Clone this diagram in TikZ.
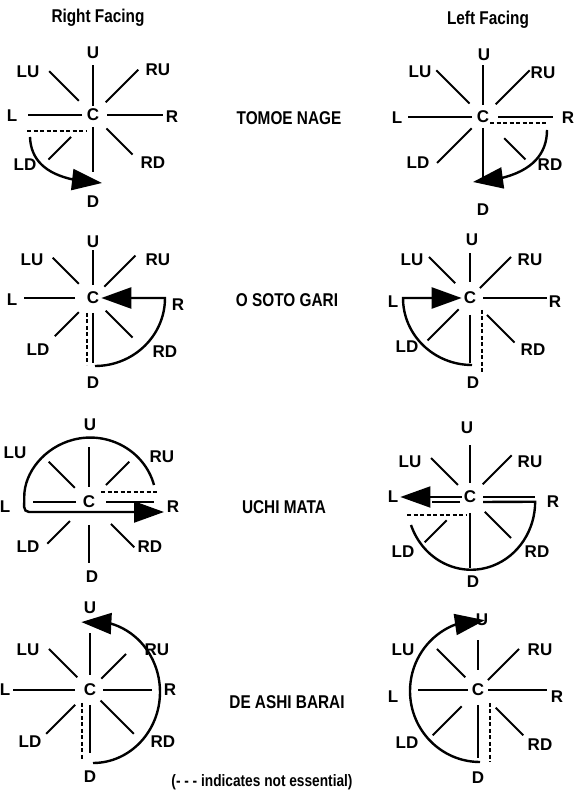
\documentclass[tikz,border=0pt]{standalone}
\usepackage{fontspec}
\usepackage{tikz}
\usetikzlibrary{arrows.meta,bending}
\newfontfamily\labelfont{Liberation Sans}
\newfontfamily\headfont[FakeStretch=0.83]{Liberation Sans}

\begin{document}
\begin{tikzpicture}[x=1pt,y=1pt,
    lbl/.style={font={\labelfont\bfseries\fontsize{17}{19}\selectfont},inner sep=2pt},
    head/.style={font={\headfont\bfseries\fontsize{18.5}{20}\selectfont},inner sep=0pt},
    spoke/.style={line width=1.9pt},
    hint/.style={line width=1.4pt,dash pattern=on 4pt off 2.5pt},
    turn/.style={line width=2.4pt},
    move/.style={line width=2.4pt,-{Triangle[length=30pt,width=21pt]}}]
  \fill[white] (0,0) rectangle (577,792);
  \useasboundingbox (0,0) rectangle (577,792);

  \node[head] (rf) at (98,774) {Right Facing};
  \node[head] (lf) at (488,772) {Left Facing};
  \node[head] (tomoe) at (289,674) {TOMOE NAGE};
  \node[head] (osoto) at (287,492) {O SOTO GARI};
  \node[head] (uchi) at (284,285) {UCHI MATA};
  \node[head] (deashi) at (287,90) {DE ASHI BARAI};
  \node[head,font={\headfont\bfseries\fontsize{16.5}{18}\selectfont}] (note) at (262,10) {(- - - indicates not essential)};

  % tomoe nage, right facing
  \begin{scope}[shift={(93,677)},name prefix=a-]
    \node[lbl] (C) at (0,0) {C};
    \foreach \n/\p in {U/{0,62},LU/{-65,43},RU/{65,45},L/{-81,-1},R/{79,-2},LD/{-68,-50},RD/{60,-48},D/{0,-87}}
      \node[lbl] (\n) at (\p) {\n};
    \foreach \a/\r/\s in {90/9/50,0/14/70,180/11/65,270/12/57,135/20/62,45/18/64,-45/19/56,225/31/63}
      \draw[spoke] ([shift={(\a:\r)}]C.center) -- ([shift={(\a:\s)}]C.center);
    \draw[hint] (-66,-16) -- (-6,-16);
    \coordinate (s) at (-63,-22);
    \coordinate (t) at (9,-68);
    \draw[move] (s) .. controls (-62,-50) and (-40,-66) .. (t);
  \end{scope}

  % tomoe nage, left facing
  \begin{scope}[shift={(483,675)},name prefix=b-]
    \node[lbl] (C) at (0,0) {C};
    \foreach \n/\p in {U/{1,62},LU/{-63,45},RU/{60,44},L/{-86,-1},R/{85,-1},LD/{-65,-46},RD/{67,-48},D/{0,-93}}
      \node[lbl] (\n) at (\p) {\n};
    \foreach \a/\r/\s in {90/12/52,270/11/65,180/11/75,0/15/70,135/19/66,45/18/66,225/16/65,-45/30/60}
      \draw[spoke] ([shift={(\a:\r)}]C.center) -- ([shift={(\a:\s)}]C.center);
    \draw[hint] (7,-6) -- (64,-6);
    \coordinate (s) at (64,-13);
    \coordinate (t) at (-10,-65);
    \draw[move] (s) .. controls (64,-42) and (42,-62) .. (t);
  \end{scope}

  % o soto gari, right facing
  \begin{scope}[shift={(93,494)},name prefix=c-]
    \node[lbl] (C) at (0,0) {C};
    \foreach \n/\p in {U/{0,56},LU/{-61,38},RU/{65,38},L/{-81,-2},R/{85,-7},LD/{-55,-52},RD/{72,-54},D/{0,-85}}
      \node[lbl] (\n) at (\p) {\n};
    \foreach \a/\r/\s in {90/13/48,180/18/69,270/15/65,135/20/57,45/16/60,225/20/54,-45/18/56}
      \draw[spoke] ([shift={(\a:\r)}]C.center) -- ([shift={(\a:\s)}]C.center);
    \draw[hint] (-6,-15) -- (-6,-67);
    \coordinate (s) at (2,-68);
    \draw[move] (s) arc[start angle=-90,end angle=0,x radius=70,y radius=68] -- (C);
  \end{scope}

  % o soto gari, left facing
  \begin{scope}[shift={(470,494)},name prefix=d-]
    \node[lbl] (C) at (0,0) {C};
    \foreach \n/\p in {U/{2,58},LU/{-58,38},RU/{60,38},L/{-77,-4},R/{85,-4},LD/{-63,-49},RD/{63,-52},D/{3,-85}}
      \node[lbl] (\n) at (\p) {\n};
    \foreach \a/\r/\s in {90/16/45,0/13/77,270/17/65,135/21/58,45/14/58,225/16/60,-45/24/63}
      \draw[spoke] ([shift={(\a:\r)}]C.center) -- ([shift={(\a:\s)}]C.center);
    \draw[hint] (12,-12) -- (12,-74);
    \coordinate (s) at (2,-67);
    \draw[move] (s) arc[start angle=-90,end angle=-180,x radius=69,y radius=67] -- (C);
  \end{scope}

  % uchi mata, right facing
  \begin{scope}[shift={(89,290)},name prefix=e-]
    \node[lbl] (C) at (0,0) {C};
    \foreach \n/\p in {U/{1,77},LU/{-74,49},RU/{73,45},L/{-84,-5},R/{84,-5},LD/{-61,-45},RD/{61,-45},D/{3,-75}}
      \node[lbl] (\n) at (\p) {\n};
    \foreach \a/\r/\s in {90/15/55,270/23/61,180/13/56,0/17/65,135/20/57,45/24/57,225/27/59,-45/31/64}
      \draw[spoke] ([shift={(\a:\r)}]C.center) -- ([shift={(\a:\s)}]C.center);
    \draw[hint] (12,10) -- (70,10);
    \coordinate (s) at (65,17);
    \coordinate (t) at (75,-10);
    \draw[move,rounded corners=5pt] (s) arc[start angle=15,end angle=180,x radius=66,y radius=64] -- (-65,-10) -- (t);
  \end{scope}

  % uchi mata, left facing
  \begin{scope}[shift={(470,295)},name prefix=f-]
    \node[lbl] (C) at (0,0) {C};
    \foreach \n/\p in {U/{-3,69},LU/{-60,35},RU/{60,35},L/{-77,0},R/{83,-5},LD/{-67,-55},RD/{67,-55},D/{3,-85}}
      \node[lbl] (\n) at (\p) {\n};
    \foreach \a/\r/\s in {90/14/52,270/16/71,135/17/55,45/18/59,225/33/64,-45/21/58}
      \draw[spoke] ([shift={(\a:\r)}]C.center) -- ([shift={(\a:\s)}]C.center);
    \draw[spoke] (13,0) -- (65,0);
    \draw[spoke] (-10,-5) -- (-38,-5);
    \draw[hint] (-63,-18) -- (-3,-18);
    \coordinate (s) at (-59,-28);
    \draw[turn] (s) arc[start angle=200,end angle=360,x radius=64,y radius=68] -- (13,-5);
    \draw[move,line width=1.9pt] (C) -- (L);
  \end{scope}

  % de ashi barai, right facing
  \begin{scope}[shift={(90,102)},name prefix=g-]
    \node[lbl] (C) at (0,0) {C};
    \foreach \n/\p in {U/{0,82},LU/{-62,40},RU/{67,40},L/{-85,0},R/{80,0},LD/{-60,-52},RD/{73,-52},D/{0,-87}}
      \node[lbl] (\n) at (\p) {\n};
    \foreach \a/\r/\s in {90/15/57,270/15/63,180/15/77,0/13/62,135/18/58,45/16/51,225/21/62,-45/15/62}
      \draw[spoke] ([shift={(\a:\r)}]C.center) -- ([shift={(\a:\s)}]C.center);
    \draw[hint] (-8,-13) -- (-8,-70);
    \coordinate (s) at (3,-73);
    \draw[move] (s) arc[start angle=-90,end angle=100,x radius=67,y radius=71];
  \end{scope}

  % de ashi barai, left facing
  \begin{scope}[shift={(478,102)},name prefix=h-]
    \node[lbl] (C) at (0,0) {C};
    \foreach \n/\p in {U/{4,70},LU/{-75,40},RU/{62,40},L/{-85,-7},R/{79,-7},LD/{-71,-53},RD/{62,-55},D/{0,-88}}
      \node[lbl] (\n) at (\p) {\n};
    \foreach \a/\r/\s in {90/20/50,270/15/68,180/10/60,0/10/69,135/18/58,45/14/58,225/23/64,-45/25/64}
      \draw[spoke] ([shift={(\a:\r)}]C.center) -- ([shift={(\a:\s)}]C.center);
    \draw[hint] (12,-13) -- (12,-72);
    \coordinate (s) at (2,-72);
    \draw[move] (s) arc[start angle=270,end angle=86,x radius=70,y radius=71];
  \end{scope}
\end{tikzpicture}
\end{document}
